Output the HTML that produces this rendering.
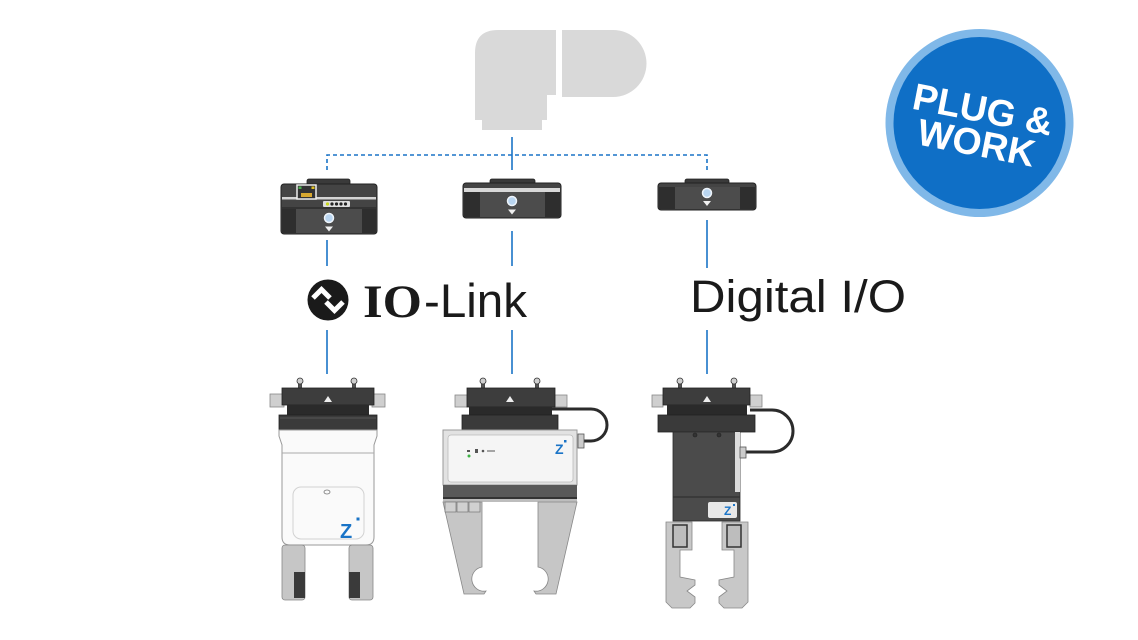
<!DOCTYPE html>
<html>
<head>
<meta charset="utf-8">
<style>
  html,body{margin:0;padding:0;background:#fff;}
  svg{display:block;}
</style>
</head>
<body>
<svg width="1138" height="640" viewBox="0 0 1138 640" xmlns="http://www.w3.org/2000/svg">
  <rect width="1138" height="640" fill="#fff"/>

  <!-- Robot flange -->
  <path d="M498,30 H556 V95 H547 V120 H542 V130 H482 V120 H475 V53 Q475,30 498,30 Z" fill="#d9d9d9"/>
  <path d="M562,30 H613 A33.5 33.5 0 0 1 613 97 H562 Z" fill="#d9d9d9"/>

  <!-- Connectors -->
  <g stroke="#1a74c7" stroke-width="1.6" fill="none">
    <line x1="512" y1="137" x2="512" y2="170"/>
    <path d="M327,170 V155 H707 V170" stroke-dasharray="4 3"/>
    <line x1="327" y1="240" x2="327" y2="266"/>
    <line x1="512" y1="231" x2="512" y2="266"/>
    <line x1="707" y1="220" x2="707" y2="268"/>
    <line x1="327" y1="330" x2="327" y2="374"/>
    <line x1="512" y1="330" x2="512" y2="374"/>
    <line x1="707" y1="330" x2="707" y2="374"/>
  </g>

  <!-- Left module (IO-Link) -->
  <rect x="307" y="179" width="43" height="7" rx="2" fill="#3a3a3a" stroke="#222" stroke-width="0.8"/>
  <rect x="281" y="184" width="96" height="50" rx="3" fill="#444" stroke="#222" stroke-width="1"/>
  <rect x="282" y="197" width="94" height="2.5" fill="#d4d4d4"/>
  <line x1="282" y1="208" x2="376" y2="208" stroke="#222" stroke-width="1"/>
  <rect x="282" y="209" width="14" height="24" fill="#2e2e2e"/>
  <rect x="362" y="209" width="14" height="24" fill="#2e2e2e"/>
  <rect x="296" y="209" width="66" height="24" fill="#4c4c4c"/>
  <rect x="297" y="185" width="19" height="14" fill="#333" stroke="#eee" stroke-width="1.5"/>
  <rect x="298.5" y="186.5" width="3" height="2.5" fill="#4caf50"/>
  <rect x="311.5" y="186.5" width="3" height="2.5" fill="#e0c020"/>
  <rect x="301" y="193" width="11" height="4" fill="#d8a830"/>
  <rect x="323" y="201" width="27" height="6" rx="1" fill="#dedede"/>
  <circle cx="327.5" cy="204" r="1.6" fill="#c8d820"/>
  <circle cx="332" cy="204" r="1.6" fill="#222"/>
  <circle cx="336.5" cy="204" r="1.6" fill="#222"/>
  <circle cx="341" cy="204" r="1.6" fill="#222"/>
  <circle cx="345.5" cy="204" r="1.6" fill="#222"/>
  <circle cx="329" cy="218" r="4.5" fill="#b9d5f0" stroke="#eef4fa" stroke-width="1.5"/>
  <polygon points="325,226.5 333,226.5 329,231.5" fill="#f0f0f0"/>

  <!-- Middle module -->
  <rect x="490" y="179" width="45" height="6" rx="2" fill="#3a3a3a" stroke="#222" stroke-width="0.8"/>
  <rect x="463" y="183" width="98" height="35" rx="3" fill="#444" stroke="#222" stroke-width="1"/>
  <rect x="464" y="188" width="96" height="4" fill="#d8d8d8"/>
  <rect x="464" y="192" width="16" height="25" fill="#2e2e2e"/>
  <rect x="545" y="192" width="15" height="25" fill="#2e2e2e"/>
  <rect x="480" y="192" width="65" height="25" fill="#4c4c4c"/>
  <circle cx="512" cy="201" r="4.5" fill="#b9d5f0" stroke="#eef4fa" stroke-width="1.5"/>
  <polygon points="508,209.5 516,209.5 512,214.5" fill="#f0f0f0"/>

  <!-- Right module -->
  <rect x="685" y="179" width="44" height="6" rx="2" fill="#3a3a3a" stroke="#222" stroke-width="0.8"/>
  <rect x="658" y="183" width="98" height="27" rx="3" fill="#444" stroke="#222" stroke-width="1"/>
  <rect x="659" y="187" width="16" height="22" fill="#2e2e2e"/>
  <rect x="740" y="187" width="15" height="22" fill="#2e2e2e"/>
  <rect x="675" y="187" width="65" height="22" fill="#4c4c4c"/>
  <circle cx="707" cy="193" r="4.5" fill="#b9d5f0" stroke="#eef4fa" stroke-width="1.5"/>
  <polygon points="703,201 711,201 707,206" fill="#f0f0f0"/>

  <!-- IO-Link logo -->
  <circle cx="328" cy="300" r="20.5" fill="#1a1a1a"/>
  <polyline points="313,298 321.5,289.5 330,298" fill="none" stroke="#fff" stroke-width="5" stroke-linejoin="miter"/>
  <polyline points="326,302 334.5,310.5 343,302" fill="none" stroke="#fff" stroke-width="5" stroke-linejoin="miter"/>
  <text x="363" y="317" font-family="'Liberation Serif', serif" font-weight="bold" font-size="47" fill="#1a1a1a" textLength="59" lengthAdjust="spacingAndGlyphs">IO</text>
  <text x="424" y="317" font-family="'Liberation Sans', sans-serif" font-size="47" fill="#1a1a1a" textLength="103" lengthAdjust="spacingAndGlyphs">-Link</text>

  <!-- Digital I/O -->
  <text x="690" y="312" font-family="'Liberation Sans', sans-serif" font-size="45" fill="#1a1a1a" textLength="216" lengthAdjust="spacingAndGlyphs">Digital I/O</text>

  <!-- Badge -->
  <circle cx="979.5" cy="123" r="94" fill="#80b8e8"/>
  <circle cx="979.5" cy="123" r="86" fill="#0f6fc6"/>
  <g transform="rotate(11 980 124)" font-family="'Liberation Sans', sans-serif" font-weight="bold" font-size="37.5" fill="#fff" text-anchor="middle">
    <text x="980" y="122">PLUG &amp;</text>
    <text x="980" y="156">WORK</text>
  </g>

  <!-- ===== Left gripper ===== -->
  <g stroke="#333" stroke-width="0.8">
    <rect x="298.5" y="381" width="3" height="8" fill="#555"/>
    <circle cx="300" cy="381" r="3" fill="#cfcfcf"/>
    <rect x="352.5" y="381" width="3" height="8" fill="#555"/>
    <circle cx="354" cy="381" r="3" fill="#cfcfcf"/>
  </g>
  <rect x="270" y="394" width="14" height="13" fill="#cfcfcf" stroke="#888" stroke-width="0.8"/>
  <rect x="372" y="394" width="13" height="13" fill="#cfcfcf" stroke="#888" stroke-width="0.8"/>
  <rect x="282" y="388" width="92" height="17" fill="#3d3d3d" stroke="#222" stroke-width="0.8"/>
  <polygon points="324,402 332,402 328,396" fill="#eee"/>
  <rect x="287" y="405" width="82" height="10" fill="#2a2a2a"/>
  <rect x="279" y="415" width="98" height="15" fill="#3a3a3a" stroke="#222" stroke-width="0.8"/>
  <line x1="280" y1="418" x2="376" y2="418" stroke="#555" stroke-width="1"/>
  <path d="M279,430 H377 V436 L374,445 V537 Q374,545 366,545 H290 Q282,545 282,537 V445 L279,436 Z" fill="#fafafa" stroke="#9a9a9a" stroke-width="1"/>
  <line x1="282" y1="453" x2="374" y2="453" stroke="#aaa" stroke-width="1"/>
  <rect x="293" y="487" width="71" height="52" rx="8" fill="none" stroke="#d2d2d2" stroke-width="1"/>
  <ellipse cx="327" cy="492" rx="3" ry="2" fill="none" stroke="#777" stroke-width="0.8"/>
  <text x="340" y="538" font-family="'Liberation Sans', sans-serif" font-weight="bold" font-size="20" fill="#1a74c7">Z</text>
  <rect x="356.5" y="517.5" width="3" height="3" fill="#1a74c7"/>
  <rect x="282" y="545" width="23" height="55" rx="3" fill="#c6c6c6" stroke="#888" stroke-width="0.8"/>
  <rect x="294" y="572" width="11" height="26" fill="#3a3a3a"/>
  <rect x="349" y="545" width="24" height="55" rx="3" fill="#c6c6c6" stroke="#888" stroke-width="0.8"/>
  <rect x="349" y="572" width="11" height="26" fill="#3a3a3a"/>

  <!-- ===== Middle gripper ===== -->
  <path d="M552,409 H591 A16 16 0 0 1 591 441 H584" fill="none" stroke="#2b2b2b" stroke-width="3"/>
  <g stroke="#333" stroke-width="0.8">
    <rect x="481.5" y="381" width="3" height="8" fill="#555"/>
    <circle cx="483" cy="381" r="3" fill="#cfcfcf"/>
    <rect x="535.5" y="381" width="3" height="8" fill="#555"/>
    <circle cx="537" cy="381" r="3" fill="#cfcfcf"/>
  </g>
  <rect x="455" y="395" width="12" height="12" fill="#cfcfcf" stroke="#888" stroke-width="0.8"/>
  <rect x="555" y="395" width="12" height="12" fill="#cfcfcf" stroke="#888" stroke-width="0.8"/>
  <rect x="467" y="388" width="88" height="19" fill="#3d3d3d" stroke="#222" stroke-width="0.8"/>
  <polygon points="506,402 514,402 510,396" fill="#eee"/>
  <rect x="469" y="407" width="83" height="8" fill="#2a2a2a"/>
  <rect x="462" y="415" width="96" height="15" fill="#3a3a3a" stroke="#222" stroke-width="0.8"/>
  <rect x="578" y="434" width="6" height="14" fill="#ccc" stroke="#555" stroke-width="0.8"/>
  <rect x="443" y="430" width="134" height="55" fill="#e2e2e2" stroke="#999" stroke-width="1"/>
  <rect x="448" y="435" width="125" height="47" rx="3" fill="#f5f5f5" stroke="#bbb" stroke-width="0.8"/>
  <g fill="#555">
    <rect x="467" y="450" width="3" height="2"/>
    <rect x="475" y="449" width="3" height="4"/>
    <circle cx="483" cy="451" r="1.3"/>
    <rect x="487" y="450.5" width="8" height="1"/>
  </g>
  <circle cx="469" cy="456" r="1.5" fill="#3cb043"/>
  <text x="555" y="454" font-family="'Liberation Sans', sans-serif" font-weight="bold" font-size="14" fill="#1a74c7">Z</text>
  <rect x="564" y="440" width="2.5" height="2.5" fill="#1a74c7"/>
  <rect x="443" y="485" width="134" height="12" fill="#595959"/>
  <rect x="443" y="497" width="134" height="2" fill="#333"/>
  <rect x="443" y="499" width="134" height="3" fill="#bdbdbd"/>
  <path d="M443,502 H482 V567 A12 12 0 1 0 486 591 L484 594 H464 Z" fill="#c6c6c6" stroke="#888" stroke-width="0.8"/>
  <path d="M577,502 H538 V567 A12 12 0 1 1 534 591 L536 594 H556 Z" fill="#c6c6c6" stroke="#888" stroke-width="0.8"/>
  <g fill="#d0d0d0" stroke="#777" stroke-width="0.7">
    <rect x="445" y="502" width="11" height="10"/>
    <rect x="457" y="502" width="11" height="10"/>
    <rect x="469" y="502" width="11" height="10"/>
  </g>

  <!-- ===== Right gripper ===== -->
  <path d="M750,410 H772 A21 21 0 0 1 772 452 H746" fill="none" stroke="#2b2b2b" stroke-width="3"/>
  <g stroke="#333" stroke-width="0.8">
    <rect x="678.5" y="381" width="3" height="8" fill="#555"/>
    <circle cx="680" cy="381" r="3" fill="#cfcfcf"/>
    <rect x="732.5" y="381" width="3" height="8" fill="#555"/>
    <circle cx="734" cy="381" r="3" fill="#cfcfcf"/>
  </g>
  <rect x="652" y="395" width="11" height="12" fill="#cfcfcf" stroke="#888" stroke-width="0.8"/>
  <rect x="750" y="395" width="12" height="12" fill="#cfcfcf" stroke="#888" stroke-width="0.8"/>
  <rect x="663" y="388" width="87" height="17" fill="#3d3d3d" stroke="#222" stroke-width="0.8"/>
  <polygon points="703,402 711,402 707,396" fill="#eee"/>
  <rect x="667" y="405" width="80" height="10" fill="#2a2a2a"/>
  <rect x="658" y="415" width="97" height="17" fill="#3a3a3a" stroke="#222" stroke-width="0.8"/>
  <rect x="673" y="432" width="67" height="89" fill="#4b4b4b" stroke="#2a2a2a" stroke-width="0.8"/>
  <rect x="735" y="432" width="5" height="60" fill="#dcdcdc"/>
  <line x1="673" y1="497" x2="740" y2="497" stroke="#2a2a2a" stroke-width="1"/>
  <circle cx="695" cy="435" r="2" fill="#333" stroke="#222" stroke-width="0.6"/>
  <circle cx="719" cy="435" r="2" fill="#333" stroke="#222" stroke-width="0.6"/>
  <rect x="740" y="447" width="6" height="11" fill="#ccc" stroke="#555" stroke-width="0.8"/>
  <rect x="708" y="502" width="29" height="16" rx="2" fill="#e8e8e8"/>
  <text x="724" y="515" font-family="'Liberation Sans', sans-serif" font-weight="bold" font-size="12" fill="#1a74c7">Z</text>
  <rect x="733" y="504" width="2" height="2" fill="#1a74c7"/>
  <polygon points="666,522 692,522 692,550 680,550 680,577 695,580 695,585 687,591 695,597 695,603 690,608 672,608 666,602" fill="#c8c8c8" stroke="#888" stroke-width="0.8"/>
  <polygon points="748,522 722,522 722,550 734,550 734,577 719,580 719,585 727,591 719,597 719,603 724,608 742,608 748,602" fill="#c8c8c8" stroke="#888" stroke-width="0.8"/>
  <rect x="673" y="525" width="14" height="22" fill="#bdbdbd" stroke="#333" stroke-width="1.5"/>
  <rect x="727" y="525" width="14" height="22" fill="#bdbdbd" stroke="#333" stroke-width="1.5"/>
</svg>
</body>
</html>
